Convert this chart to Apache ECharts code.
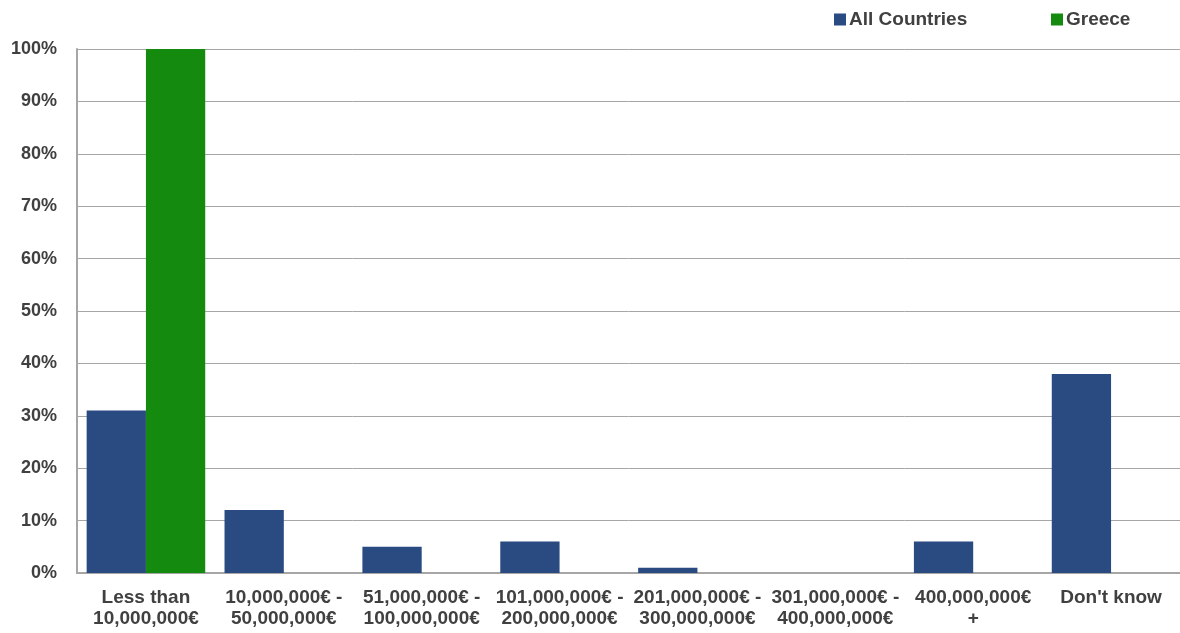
<!DOCTYPE html>
<html>
<head>
<meta charset="utf-8">
<style>
  html, body { margin: 0; padding: 0; background: #ffffff; }
  #chart { width: 1180px; height: 633px; }
</style>
<script src="https://cdn.jsdelivr.net/npm/echarts@6/dist/echarts.min.js"></script>
</head>
<body>
<div id="chart"></div>
<script>
// Budget ranges shown along the x axis
const categories = [
  'Less than\n10,000,000€',
  '10,000,000€ -\n50,000,000€',
  '51,000,000€ -\n100,000,000€',
  '101,000,000€ -\n200,000,000€',
  '201,000,000€ -\n300,000,000€',
  '301,000,000€ -\n400,000,000€',
  '400,000,000€\n+',
  "Don't know"
];

// Share of respondents per range (%)
const allCountries = [31, 12, 5, 6, 1, 0, 6, 38];
const greece = [100, 0, 0, 0, 0, 0, 0, 0];

// Y axis ticks (%)
const yTicks = [0, 10, 20, 30, 40, 50, 60, 70, 80, 90, 100];

const textColor = '#404040';
const fontFamily = '"Liberation Sans", Arial, sans-serif';

const legendText = {
  fontSize: 19,
  fontWeight: 'bold',
  color: textColor,
  fontFamily: fontFamily,
  padding: [0, 0, 0, -2]
};

const chart = echarts.init(document.getElementById('chart'), null, { renderer: 'canvas' });

chart.setOption({
  animation: false,
  textStyle: { fontFamily: fontFamily },
  legend: [
    {
      top: 5,
      left: 829,
      itemWidth: 12,
      itemHeight: 12,
      icon: 'rect',
      textStyle: legendText,
      data: ['All Countries']
    },
    {
      top: 5,
      left: 1046,
      itemWidth: 12,
      itemHeight: 12,
      icon: 'rect',
      textStyle: legendText,
      data: ['Greece']
    }
  ],
  grid: {
    left: 77,
    right: 0,
    top: 49,
    bottom: 60,
    containLabel: false
  },
  xAxis: {
    type: 'category',
    data: categories,
    axisLine: { show: true, lineStyle: { color: '#a6a6a6', width: 2 } },
    axisTick: { show: false },
    axisLabel: {
      interval: 0,
      margin: 14,
      fontSize: 19,
      fontWeight: 'bold',
      color: textColor,
      lineHeight: 21,
      fontFamily: fontFamily
    }
  },
  yAxis: {
    type: 'value',
    min: yTicks[0],
    max: yTicks[yTicks.length - 1],
    interval: 10,
    axisLine: { show: true, lineStyle: { color: '#a6a6a6', width: 2 } },
    axisTick: { show: false },
    splitLine: { show: true, lineStyle: { color: '#a6a6a6', width: 1 } },
    axisLabel: {
      margin: 20,
      fontSize: 18,
      fontWeight: 'bold',
      color: textColor,
      fontFamily: fontFamily,
      formatter: function (v) { return v + '%'; }
    }
  },
  series: [
    {
      name: 'All Countries',
      type: 'bar',
      data: allCountries,
      barGap: '0%',
      barCategoryGap: '14%',
      itemStyle: { color: '#2a4a82' }
    },
    {
      name: 'Greece',
      type: 'bar',
      data: greece,
      itemStyle: { color: '#148a0e' }
    }
  ]
});
</script>
</body>
</html>
